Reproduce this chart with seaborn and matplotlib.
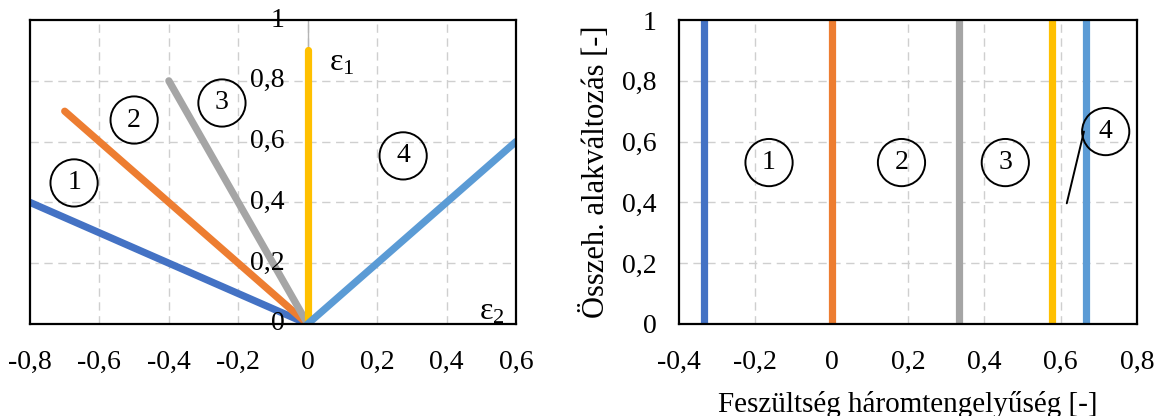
import matplotlib
matplotlib.use("Agg")
import matplotlib.pyplot as plt
import seaborn as sns
import pandas as pd

# ---------------- data ----------------
left_series = ["1", "2", "3", "e1", "4"]
left_x_end = [-0.8, -0.7, -0.4, 0.0, 0.6]
left_y_end = [0.4, 0.7, 0.8, 0.9, 0.6]
colors = ["#4472C4", "#ED7D31", "#A5A5A5", "#FFC000", "#5B9BD5"]

right_x = [-1/3, 0.0, 1/3, 0.577, 2/3]

left_xticks = [-0.8, -0.6, -0.4, -0.2, 0.0, 0.2, 0.4, 0.6]
left_xlabels = ["-0,8", "-0,6", "-0,4", "-0,2", "0", "0,2", "0,4", "0,6"]
yticks = [0, 0.2, 0.4, 0.6, 0.8, 1.0]
ylabels = ["0", "0,2", "0,4", "0,6", "0,8", "1"]
right_xticks = [-0.4, -0.2, 0.0, 0.2, 0.4, 0.6, 0.8]
right_xlabels = ["-0,4", "-0,2", "0", "0,2", "0,4", "0,6", "0,8"]

left_regions = ["1", "2", "3", "4"]
left_reg_x = [-0.673, -0.500, -0.247, 0.275]
left_reg_y = [0.464, 0.671, 0.727, 0.553]
right_regions = ["1", "2", "3", "4"]
right_reg_x = [-0.164, 0.183, 0.455, 0.718]
right_reg_y = [0.531, 0.531, 0.531, 0.633]

xlabel_right = "Feszültség háromtengelyűség [-]"
ylabel_right = "Összeh. alakváltozás [-]"

# ---------------- style ----------------
sns.set_theme(style="white")
plt.rcParams["font.family"] = ["Liberation Serif", "DejaVu Serif"]
plt.rcParams["mathtext.fontset"] = "custom"
plt.rcParams["mathtext.rm"] = "Liberation Serif"
plt.rcParams["mathtext.it"] = "Liberation Serif"
for k in ("text.color", "axes.labelcolor", "xtick.color", "ytick.color"):
    plt.rcParams[k] = "black"
FS = 20
LW = 5.2

fig = plt.figure(figsize=(11.64, 4.16), dpi=100)
axL = fig.add_axes([0.02577, 0.2212, 0.4175, 0.7307])
axR = fig.add_axes([0.5833, 0.2212, 0.3935, 0.7307])

grid_kw = dict(color="#CFCFCF", lw=1.0, ls=(0, (6, 4)), zorder=0)
circ = dict(boxstyle="circle,pad=0.4", fc="none", ec="black", lw=1.4)

# ---------------- left panel ----------------
rows = []
for s, xe, ye in zip(left_series, left_x_end, left_y_end):
    rows.append({"s": s, "x": 0.0, "y": 0.0})
    rows.append({"s": s, "x": xe, "y": ye})
dfL = pd.DataFrame(rows)

axL.set_xlim(-0.8, 0.6)
axL.set_ylim(0, 1)
for gx in left_xticks[1:-1]:
    axL.axvline(gx, **grid_kw)
for gy in yticks[1:-1]:
    axL.axhline(gy, **grid_kw)
axL.axvline(0, color="#B4B4B4", lw=1.0, zorder=1)

sns.lineplot(data=dfL, x="x", y="y", hue="s", palette=dict(zip(left_series, colors)),
             sort=False, estimator=None, units="s", lw=LW, legend=False, ax=axL, zorder=3)
for ln in axL.lines:
    ln.set_solid_capstyle("round")

axL.set_xticks(left_xticks)
axL.set_xticklabels(left_xlabels, fontsize=FS)
axL.set_yticks([])
axL.tick_params(axis="x", length=0, pad=19)
for yv, lab in zip(yticks, ylabels):
    axL.text(-0.066, yv, lab, ha="right", va="center", fontsize=FS, zorder=5)
axL.set_xlabel("")
axL.set_ylabel("")

axL.text(0.061, 0.86, r"$\mathregular{\epsilon_1}$", fontsize=FS + 3, ha="left", va="center")
axL.text(0.494, 0.04, r"$\mathregular{\epsilon_2}$", fontsize=FS + 3, ha="left", va="center")

for t, cx, cy in zip(left_regions, left_reg_x, left_reg_y):
    axL.text(cx, cy, t, fontsize=FS, ha="center", va="center", bbox=circ, zorder=6)

# ---------------- right panel ----------------
rows = []
for i, xv in enumerate(right_x):
    rows.append({"s": str(i), "x": xv, "y": 0.0})
    rows.append({"s": str(i), "x": xv, "y": 1.0})
dfR = pd.DataFrame(rows)

axR.set_xlim(-0.4, 0.8)
axR.set_ylim(0, 1)
for gx in right_xticks[1:-1]:
    axR.axvline(gx, **grid_kw)
for gy in yticks[1:-1]:
    axR.axhline(gy, **grid_kw)
sns.lineplot(data=dfR, x="x", y="y", hue="s", palette=dict(zip([str(i) for i in range(5)], colors)),
             sort=False, estimator=None, units="s", lw=LW, legend=False, ax=axR, zorder=3)
for ln in axR.lines[-5:]:
    ln.set_solid_capstyle("butt")

axR.set_xticks(right_xticks)
axR.set_xticklabels(right_xlabels, fontsize=FS)
axR.set_yticks(yticks)
axR.set_yticklabels(ylabels, fontsize=FS)
axR.tick_params(axis="x", length=0, pad=19)
axR.tick_params(axis="y", length=0, pad=16)
axR.set_xlabel(xlabel_right, fontsize=21, labelpad=11)
axR.set_ylabel(ylabel_right, fontsize=22, labelpad=8)

for t, cx, cy in zip(right_regions, right_reg_x, right_reg_y):
    axR.text(cx, cy, t, fontsize=FS, ha="center", va="center", bbox=circ, zorder=6)
axR.plot([0.616, 0.661], [0.397, 0.633], color="black", lw=1.4, zorder=6)

for ax in (axL, axR):
    for sp in ax.spines.values():
        sp.set_visible(True)
        sp.set_color("black")
        sp.set_linewidth(1.6)
        sp.set_zorder(4)

fig.savefig("out.png", dpi=100)
